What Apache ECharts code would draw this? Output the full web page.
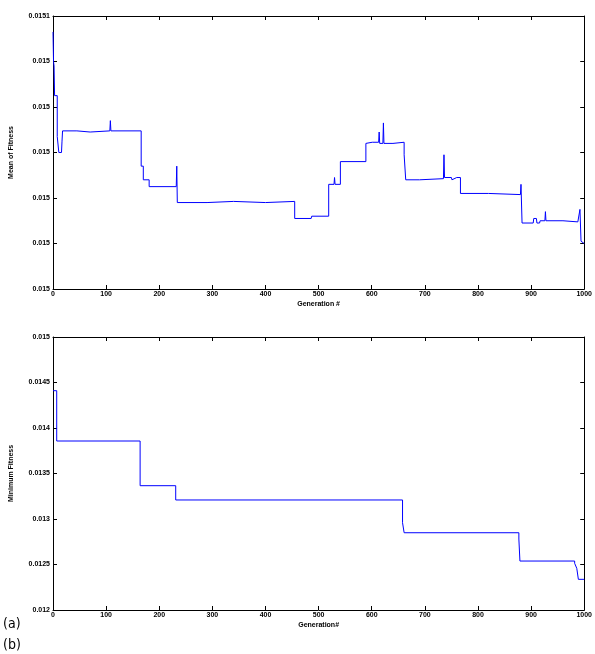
<!DOCTYPE html>
<html>
<head>
<meta charset="utf-8">
<script src="https://cdn.jsdelivr.net/npm/echarts@6/dist/echarts.min.js"></script>
<style>
html, body { margin: 0; padding: 0; background: #fff; overflow: hidden; }
#container { width: 595px; height: 654px; }
</style>
</head>
<body>
<div id="container"></div>
<script>
// generation ticks
var genTicks = ['0', '100', '200', '300', '400', '500', '600', '700', '800', '900', '1000'];
// y tick labels as printed (top plot labels are rounded)
var topTickLabels = ['0.015', '0.015', '0.015', '0.015', '0.015', '0.015', '0.0151'];
var botTickLabels = ['0.012', '0.0125', '0.013', '0.0135', '0.014', '0.0145', '0.015'];

// (a) mean of fitness
var meanGen = [0, 1, 2, 3, 8, 8, 10, 11, 16, 17, 18, 45, 46, 70, 71, 107, 108, 109, 166, 166, 170, 170, 181, 181, 232, 233, 234,
  290, 291, 340, 341, 400, 401, 455, 455, 486, 487, 519, 519, 529, 530, 531, 541, 541, 589, 589, 601, 613, 614, 615, 621, 622, 623,
  640, 641, 661, 661, 664, 664, 690, 691, 735, 736, 737, 750, 751, 760, 767, 767, 820, 821, 880, 881, 883, 904, 905, 910, 911,
  916, 917, 926, 927, 928, 960, 961, 988, 991, 992, 994, 1000];
var meanFit = [0.015093, 0.015080, 0.015078, 0.015065, 0.015065, 0.015047, 0.015047, 0.015040, 0.015040, 0.015045, 0.0150495, 0.0150495, 0.015049, 0.015049, 0.0150495, 0.0150495, 0.015054, 0.0150495, 0.0150495, 0.015034, 0.015034, 0.015028, 0.015028, 0.015025, 0.015025, 0.015034, 0.015018,
  0.015018, 0.0150185, 0.0150185, 0.015018, 0.015018, 0.0150185, 0.0150185, 0.015011, 0.015011, 0.015012, 0.015012, 0.015026, 0.015026, 0.015029, 0.015026, 0.015026, 0.015036, 0.015036, 0.015044, 0.0150445, 0.0150445, 0.015049, 0.015044, 0.015044, 0.015053, 0.015044,
  0.015044, 0.0150445, 0.0150445, 0.015039, 0.015039, 0.015028, 0.015028, 0.0150285, 0.0150285, 0.015039, 0.015029, 0.015029, 0.015028, 0.015029, 0.015029, 0.015022, 0.015022, 0.0150215, 0.0150215, 0.015026, 0.015009, 0.015009, 0.015011, 0.015011, 0.015009,
  0.015009, 0.015010, 0.015010, 0.015014, 0.015010, 0.015010, 0.0150095, 0.0150095, 0.015010, 0.015015, 0.015001, 0.015000];

// (b) minimum fitness
var minGen = [0, 7, 7, 164, 164, 231, 231, 658, 658, 661, 661, 877, 877, 879, 879, 982, 982, 986, 989, 989, 1000];
var minFit = [0.01441, 0.01441, 0.013857, 0.013857, 0.013366, 0.013366, 0.013209, 0.013209, 0.012959, 0.012959, 0.012849, 0.012849, 0.01278, 0.01278, 0.012538, 0.012538, 0.012513, 0.012458, 0.012458, 0.012337, 0.012337];

function pairs(xs, ys) {
  return xs.map(function (x, i) { return [x, ys[i]]; });
}

var font = 'Liberation Sans, Arial, sans-serif';

function xAx(grid, pos, showLabels, name) {
  return {
    type: 'value', gridIndex: grid, position: pos, min: 0, max: 1000, interval: 100,
    axisLine: { show: true, onZero: false, lineStyle: { color: '#000', width: 1 } },
    axisTick: { show: true, inside: true, length: 4, lineStyle: { color: '#000' } },
    axisLabel: {
      show: showLabels, margin: 2, fontSize: 7, fontWeight: 'bold', color: '#000', fontFamily: font,
      formatter: function (v, i) { return genTicks[i]; }
    },
    splitLine: { show: false },
    name: name || '', nameLocation: 'middle', nameGap: 12,
    nameTextStyle: { fontSize: 7, fontWeight: 'bold', color: '#000', fontFamily: font }
  };
}

function yAx(grid, pos, min, max, interval, labels, name) {
  return {
    type: 'value', gridIndex: grid, position: pos, min: min, max: max, interval: interval,
    axisLine: { show: true, onZero: false, lineStyle: { color: '#000', width: 1 } },
    axisTick: { show: true, inside: true, length: 4, lineStyle: { color: '#000' } },
    axisLabel: {
      show: !!labels, margin: 3, fontSize: 7, fontWeight: 'bold', color: '#000', fontFamily: font,
      formatter: function (v, i) { return labels ? labels[i] : ''; }
    },
    splitLine: { show: false },
    name: name || '', nameLocation: 'middle', nameGap: 38, nameRotate: 90,
    nameTextStyle: { fontSize: 7, fontWeight: 'bold', color: '#000', fontFamily: font }
  };
}

var option = {
  animation: false,
  backgroundColor: '#fff',
  grid: [
    { left: 53, top: 16, width: 535, height: 273 },
    { left: 52, top: 337, width: 536, height: 273 }
  ],
  xAxis: [
    xAx(0, 'bottom', true, 'Generation #'),
    xAx(0, 'top', false),
    xAx(1, 'bottom', true, 'Generation#'),
    xAx(1, 'top', false)
  ],
  yAxis: [
    yAx(0, 'left', 0.01498, 0.0151, 0.00002, topTickLabels, 'Mean of Fitness'),
    yAx(0, 'right', 0.01498, 0.0151, 0.00002, null),
    yAx(1, 'left', 0.012, 0.015, 0.0005, botTickLabels, 'Minimum Fitness'),
    yAx(1, 'right', 0.012, 0.015, 0.0005, null)
  ],
  series: [
    {
      type: 'line', xAxisIndex: 0, yAxisIndex: 0, symbol: 'none',
      lineStyle: { color: '#0000ff', width: 1 },
      data: pairs(meanGen, meanFit)
    },
    {
      type: 'line', xAxisIndex: 2, yAxisIndex: 2, symbol: 'none',
      lineStyle: { color: '#0000ff', width: 1 },
      data: pairs(minGen, minFit)
    }
  ],
  graphic: [
    { type: 'text', left: 3, top: 617, style: { text: '(a)', fontSize: 14, fill: '#000', fontFamily: 'DejaVu Sans Condensed, DejaVu Sans, sans-serif' } },
    { type: 'text', left: 3, top: 638, style: { text: '(b)', fontSize: 14, fill: '#000', fontFamily: 'DejaVu Sans Condensed, DejaVu Sans, sans-serif' } }
  ]
};

var myChart = window.echarts.init(document.getElementById('container'), null, { renderer: 'canvas' });
myChart.setOption(option);
</script>
</body>
</html>
